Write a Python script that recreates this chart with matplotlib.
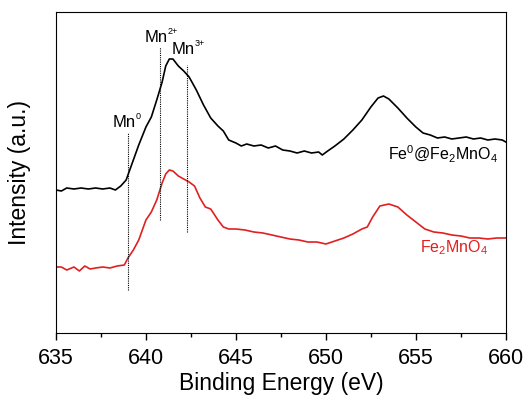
import matplotlib
matplotlib.use("Agg")
import matplotlib.pyplot as plt

plt.rcParams['font.family'] = ['Liberation Sans', 'DejaVu Sans']
plt.rcParams['mathtext.fontset'] = 'custom'
plt.rcParams['mathtext.rm'] = 'Liberation Sans'
plt.rcParams['mathtext.it'] = 'Liberation Sans'

# Binding energy (eV)
be_black = [635.0, 635.3, 635.6, 636.0, 636.4, 636.8, 637.2, 637.6, 638.0, 638.3, 638.6, 638.9,
            639.0, 639.3, 639.6, 640.0, 640.3, 640.6, 640.9, 641.1, 641.3, 641.5, 641.8, 642.1,
            642.4, 642.8, 643.2, 643.6, 644.0, 644.3, 644.6, 645.0, 645.3, 645.6, 646.0, 646.4,
            646.8, 647.2, 647.6, 648.0, 648.4, 648.8, 649.2, 649.6, 649.8, 650.1, 650.5, 651.0,
            651.5, 652.0, 652.5, 652.9, 653.2, 653.5, 654.0, 654.5, 655.0, 655.4, 655.8, 656.2,
            656.6, 657.0, 657.4, 657.8, 658.2, 658.6, 659.0, 659.4, 659.8, 660.0]
int_black = [143, 142, 145, 144, 145, 144, 145, 144, 145, 143, 147, 153,
             158, 173, 188, 206, 216, 233, 251, 267, 274, 274, 267, 262,
             256, 243, 228, 215, 207, 202, 193, 190, 187, 189, 187, 188,
             185, 187, 183, 182, 180, 182, 180, 181, 178, 182, 187, 194,
             203, 213, 226, 235, 237, 234, 225, 215, 206, 200, 198, 195,
             196, 194, 195, 196, 194, 195, 193, 194, 193, 191]

be_red = [635.0, 635.3, 635.6, 636.0, 636.3, 636.6, 636.9, 637.2, 637.6, 638.0, 638.4, 638.8,
          639.0, 639.3, 639.6, 640.0, 640.3, 640.6, 640.9, 641.1, 641.3, 641.5, 641.8, 642.1,
          642.4, 642.7, 643.0, 643.3, 643.6, 644.0, 644.3, 644.6, 645.0, 645.5, 646.0, 646.5,
          647.0, 647.5, 648.0, 648.5, 649.0, 649.5, 650.0, 650.5, 651.0, 651.5, 652.0, 652.3,
          652.6, 653.0, 653.5, 654.0, 654.5, 655.0, 655.5, 656.0, 656.5, 657.0, 657.5, 658.0,
          658.5, 659.0, 659.5, 660.0]
int_red = [66, 66, 63, 66, 62, 67, 64, 65, 66, 65, 67, 68,
           75, 83, 93, 113, 121, 133, 150, 159, 163, 162, 157, 154,
           151, 147, 135, 126, 124, 113, 106, 104, 104, 103, 101, 100,
           98, 96, 94, 93, 91, 91, 89, 92, 95, 99, 104, 106,
           116, 127, 129, 126, 118, 111, 104, 101, 100, 98, 97, 95,
           95, 94, 95, 95]

# Reference lines: position, bottom, top, label superscript, label y
ref_pos = [639.0, 640.8, 642.3]
ref_bottom = [43, 113, 101]
ref_top = [200, 286, 268]
ref_sups = ['0', '2+', '3+']
ref_label_y = [203, 288, 276]

fig = plt.figure(figsize=(5.28, 4.0), dpi=100)
ax = fig.add_axes([0.106, 0.1675, 0.852, 0.8025])

ax.plot(be_black, int_black, color='black', lw=1.2)
ax.plot(be_red, int_red, color='#e02020', lw=1.2)

for p, b, t, sup, ly in zip(ref_pos, ref_bottom, ref_top, ref_sups, ref_label_y):
    ax.plot([p, p], [b, t], color='black', lw=0.8, ls=(0, (1, 1)))
    ax.annotate('Mn', xy=(p, ly), xytext=(-11, 0), textcoords='offset points',
                ha='left', va='bottom', fontsize=12)
    ax.annotate(sup, xy=(p, ly), xytext=(5.3, 6.5), textcoords='offset points',
                ha='left', va='bottom', fontsize=6.5)

ax.text(659.55, 168, 'Fe$^{0}$@Fe$_{2}$MnO$_{4}$', ha='right', va='bottom', fontsize=11.5)
ax.text(659.0, 76, 'Fe$_{2}$MnO$_{4}$', ha='right', va='bottom', fontsize=11.5, color='#e02020')

ax.set_xlim(635, 660)
ax.set_ylim(0, 321)
ax.set_xticks([635, 640, 645, 650, 655, 660])
ax.set_xticks([637.5, 642.5, 647.5, 652.5, 657.5], minor=True)
ax.set_yticks([])
ax.tick_params(axis='x', which='major', direction='out', length=5, width=1, labelsize=15.5, pad=6)
ax.tick_params(axis='x', which='minor', direction='out', length=3, width=1)
ax.set_xlabel('Binding Energy (eV)', fontsize=16.5, labelpad=2)
ax.set_ylabel('Intensity (a.u.)', fontsize=16.5, labelpad=18)

fig.savefig('out.png', dpi=100)
